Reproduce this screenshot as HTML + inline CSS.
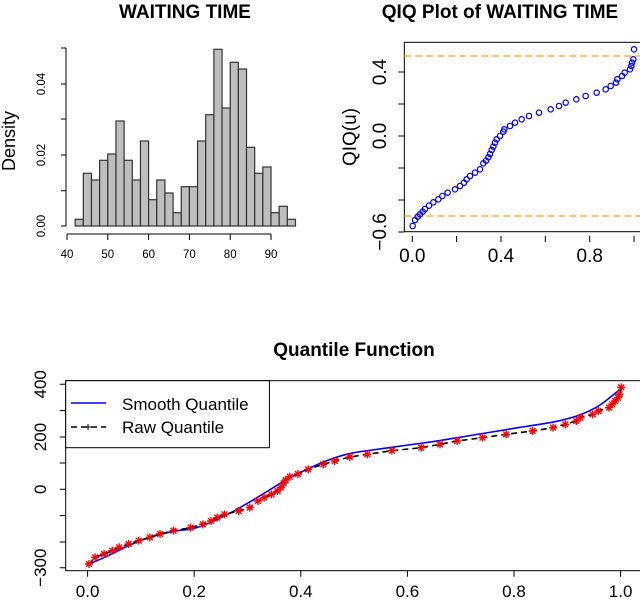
<!DOCTYPE html>
<html><head><meta charset="utf-8"><style>
html,body{margin:0;padding:0;background:#fff}
svg{display:block;font-family:"Liberation Sans",Arial,sans-serif}
</style></head><body>
<svg id="s" width="640" height="601" viewBox="0 0 640 601" xmlns="http://www.w3.org/2000/svg">
<text x="185" y="18" font-size="19" font-weight="bold" text-anchor="middle">WAITING TIME</text>
<g id="hist" fill="#bebebe" stroke="#333" stroke-width="1.2"></g>
<g stroke="#000" stroke-width="1" fill="none">
<path d="M66,48V226M66,48H61M66,84H61M66,119H61M66,155H61M66,190.7H61M66,226H61"/>
<path d="M67,234H271M67,234v6M107.8,234v6M148.6,234v6M189.4,234v6M230.2,234v6M271,234v6"/>
</g>
<g font-size="11.5" text-anchor="middle">
<text x="67" y="258">40</text><text x="107.8" y="258">50</text><text x="148.6" y="258">60</text><text x="189.4" y="258">70</text><text x="230.2" y="258">80</text><text x="271" y="258">90</text>
<text transform="translate(45,226) rotate(-90)">0.00</text>
<text transform="translate(45,155) rotate(-90)">0.02</text>
<text transform="translate(45,84) rotate(-90)">0.04</text>
</g>
<text transform="translate(15,141) rotate(-90)" font-size="18" text-anchor="middle">Density</text>

<text x="500" y="18" font-size="19" font-weight="bold" text-anchor="middle">QIQ Plot of WAITING TIME</text>
<rect x="404.3" y="42.3" width="300" height="189.4" fill="none" stroke="#000" stroke-width="1"/>
<g stroke="orange" stroke-width="1.3" stroke-dasharray="7,4"><path d="M404.3,56H640M404.3,216H640"/></g>
<g id="qiq" fill="none" stroke="#0000ff" stroke-width="1.2"></g>
<g stroke="#000" stroke-width="1"><path d="M404.3,72h-6M404.3,104h-6M404.3,136h-6M404.3,168h-6M404.3,200h-6M404.3,232h-6"/>
<path d="M412.3,236v6M456.6,236v6M501,236v6M545.3,236v6M589.7,236v6M634,236v6"/></g>
<g font-size="19" text-anchor="middle">
<text x="412.3" y="262">0.0</text><text x="501" y="262">0.4</text><text x="589.7" y="262">0.8</text>
<text transform="translate(386,72) rotate(-90)">0.4</text>
<text transform="translate(386,136) rotate(-90)">0.0</text>
<text transform="translate(386,232) rotate(-90)">−0.6</text>
<text transform="translate(356,137) rotate(-90)">QIQ(u)</text>
</g>

<text x="354" y="356" font-size="19" font-weight="bold" text-anchor="middle">Quantile Function</text>
<rect x="65.7" y="380.7" width="600" height="190" fill="none" stroke="#000" stroke-width="1"/>
<path id="blue" fill="none" stroke="#0000ff" stroke-width="1.6"/>
<path id="raw" fill="none" stroke="#000" stroke-width="1.6" stroke-dasharray="6,4"/>
<g id="stars" stroke="#ff0000" stroke-width="1.4"></g>
<g stroke="#000" stroke-width="1">
<path d="M65.7,384.3h-6M65.7,410.6h-6M65.7,437h-6M65.7,463h-6M65.7,489.3h-6M65.7,515.6h-6M65.7,542h-6M65.7,567.7h-6"/>
<path d="M87.6,570.7v6M194.2,570.7v6M300.8,570.7v6M407.4,570.7v6M514,570.7v6M620.6,570.7v6"/>
</g>
<g font-size="17" text-anchor="middle">
<text x="87.6" y="597">0.0</text><text x="194.2" y="597">0.2</text><text x="300.8" y="597">0.4</text><text x="407.4" y="597">0.6</text><text x="514" y="597">0.8</text><text x="620.6" y="597">1.0</text>
<text transform="translate(46,384.3) rotate(-90)">400</text>
<text transform="translate(46,437) rotate(-90)">200</text>
<text transform="translate(46,489.3) rotate(-90)">0</text>
<text transform="translate(46,567.7) rotate(-90)">−300</text>
</g>
<rect x="65.7" y="380.7" width="203.7" height="67" fill="#fff" stroke="#000" stroke-width="1"/>
<path d="M71,403H106" stroke="#0000ff" stroke-width="1.6"/>
<path d="M71,427H106" stroke="#000" stroke-width="1.6" stroke-dasharray="6,4"/>
<g font-size="17"><text x="122" y="410">Smooth Quantile</text><text x="122" y="433">Raw Quantile</text></g>
<path d="M85,427h6M88,424v6" stroke="#000" stroke-width="1"/>
</svg>
<script>
var NS="http://www.w3.org/2000/svg";
function el(p,t,a){var e=document.createElementNS(NS,t);for(var k in a)e.setAttribute(k,a[k]);p.appendChild(e);return e;}
var tops=[219.3,173.3,180,160.3,154,121,160.3,180,141,199.7,180,193,212.7,186.7,186.7,141,114.7,49.3,108,62.3,69,147.3,173.3,167,212.7,206.3,219.3];
var h=document.getElementById('hist');
tops.forEach(function(t,i){var x=67+(42+2*i-40)*4.08;el(h,'rect',{x:x,y:t,width:8.16,height:226-t});});
var q=[[278,678],[285,660],[293,650],[300,643],[308,635],[315,627],[327,617],[340,607],[355,598],[367,588],[383,578],[405,568],[420,558],[432,548],[440,538],[450,528],[465,518],[480,508],[490,490],[498,482],[505,472],[510,462],[515,450],[520,440],[525,428],[530,418],[540,408],[550,395],[553,388],[570,378],[585,368],[605,358],[627,348],[657,338],[692,328],[717,318],[737,308],[769,298],[797,288],[830,278],[857,268],[872,258],[888,248],[892,238],[906,228],[914,218],[930,208],[934,198],[936,188],[940,178],[942,148]];
var g=document.getElementById('qiq');
q.forEach(function(p){el(g,'circle',{cx:320+p[0]/3,cy:p[1]/3,r:2.7});});
function tx(p){return [p[0]/2.45,330+p[1]/3];}
function smooth(pts){var P=pts.map(tx),d='M'+P[0][0].toFixed(1)+','+P[0][1].toFixed(1);
for(var i=0;i<P.length-1;i++){var p0=P[i-1]||P[i],p1=P[i],p2=P[i+1],p3=P[i+2]||p2;
var c1=[p1[0]+(p2[0]-p0[0])/6,p1[1]+(p2[1]-p0[1])/6],c2=[p2[0]-(p3[0]-p1[0])/6,p2[1]-(p3[1]-p1[1])/6];
d+='C'+c1.map(v=>v.toFixed(1))+' '+c2.map(v=>v.toFixed(1))+' '+p2.map(v=>v.toFixed(1));}return d;}
var b=[[213,705],[260,680],[310,650],[360,625],[420,605],[475,595],[520,575],[570,545],[620,510],[660,480],[700,450],[740,425],[800,392],[860,370],[960,352],[1060,335],[1160,315],[1260,295],[1360,275],[1420,255],[1470,225],[1522,175]];
document.getElementById('blue').setAttribute('d',smooth(b));
var r=[[218,702],[233,682],[255,672],[275,662],[292,652],[315,642],[340,632],[367,622],[392,612],[425,602],[467,593],[497,583],[517,573],[532,563],[550,553],[585,543],[612,533],[632,513],[647,503],[665,493],[680,483],[688,473],[695,460],[700,450],[710,440],[730,432],[755,418],[792,403],[820,393],[857,381],[900,373],[960,362],[1032,353],[1078,343],[1120,333],[1182,323],[1240,313],[1305,303],[1355,293],[1385,283],[1412,273],[1422,263],[1452,253],[1466,243],[1492,233],[1500,223],[1507,213],[1514,203],[1518,193],[1522,172]];
document.getElementById('raw').setAttribute('d','M'+r.map(function(p){return tx(p).map(v=>v.toFixed(1)).join(',');}).join('L'));
var s=document.getElementById('stars');
r.forEach(function(p){var c=tx(p),x=c[0],y=c[1],d=4,e=2.9;
el(s,'path',{d:'M'+(x-d)+','+y+'H'+(x+d)+'M'+x+','+(y-d)+'V'+(y+d)+'M'+(x-e)+','+(y-e)+'L'+(x+e)+','+(y+e)+'M'+(x-e)+','+(y+e)+'L'+(x+e)+','+(y-e)});});
</script>
</body></html>
